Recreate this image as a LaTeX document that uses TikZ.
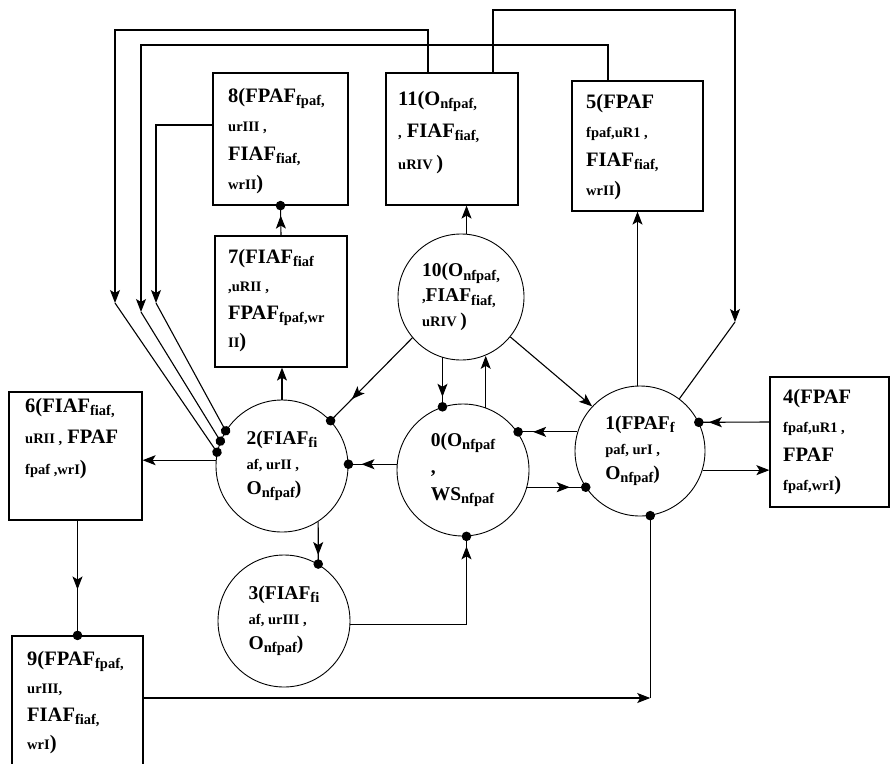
\documentclass[tikz,border=0pt]{standalone}
\usepackage{fontspec}
\setmainfont{Liberation Serif}
\usetikzlibrary{arrows.meta,decorations.markings,calc}
\newcommand{\Sb}[1]{\raisebox{-3.5pt}{\fontsize{14.5}{20}\selectfont #1}}
\newcommand{\Sm}[1]{{\fontsize{14.5}{20}\selectfont #1}}
\tikzset{
 ln/.style={line width=1.1pt},
 ar/.style={ln, -{Stealth[length=13pt,width=10pt,inset=3pt]}},
 dt/.style={ln, -{Circle[length=9.5pt]}, shorten >=-4.75pt},
 adt/.style={dt, postaction={decorate}, decoration={markings, mark=at position #1 with {\arrow{Stealth[length=13pt,width=10pt,inset=3pt]}}}},
 adt/.default=-12pt,
 box/.style={draw, line width=1.2pt, inner sep=0pt},
 circ/.style={draw, circle, line width=0.9pt, minimum size=#1, inner sep=0pt, align=left, font=\fontsize{19.5}{25}\selectfont\bfseries},
 txt/.style={align=left, inner sep=0pt, anchor=north west, font=\fontsize{20.5}{#1}\selectfont\bfseries},
}
\begin{document}
\begin{tikzpicture}[x=1pt,y=-1pt]
\useasboundingbox (0,0) rectangle (891,763);
\clip (0,0) rectangle (891,763);
% boxes
\node[box, minimum width=135pt, minimum height=132pt] (b8) at (280.5,139) {};
\node[box, minimum width=132pt, minimum height=132pt] (b11) at (452,139) {};
\node[box, minimum width=131pt, minimum height=130pt] (b5) at (637.5,146) {};
\node[box, minimum width=132pt, minimum height=131pt] (b7) at (281,301.5) {};
\node[box, minimum width=133pt, minimum height=128pt] (b6) at (75.5,456) {};
\node[box, minimum width=119pt, minimum height=130pt] (b4) at (829.5,442) {};
\node[box, minimum width=131pt, minimum height=140pt] (b9) at (77.5,706) {};
% box texts
\node[txt=29] (t8) at (228,88) {8(FPAF\Sb{fpaf,}\\\Sm{urIII ,}\\FIAF\Sb{fiaf,}\\\Sm{wrII})};
\node[txt=32] (t11) at (398,91) {11(O\Sb{nfpaf,}\\\Sm{,} FIAF\Sb{fiaf,}\\\Sm{uRIV })};
\node[txt=29] (t5) at (586,94) {5(FPAF\\\Sm{fpaf,uR1 ,}\\FIAF\Sb{fiaf,}\\\Sm{wrII})};
\node[txt=28] (t7) at (228,249) {7(FIAF\Sb{fiaf}\\\Sm{,uRII ,}\\FPAF\Sb{fpaf,wr}\\\Sm{II})};
\node[txt=31] (t6) at (25,398) {6(FIAF\Sb{fiaf,}\\\Sm{uRII ,} FPAF\\\Sm{fpaf ,wrI})};
\node[txt=29] (t4) at (783,389) {4(FPAF\\\Sm{fpaf,uR1 ,}\\FPAF\\\Sm{fpaf,wrI})};
\node[txt=28] (t9) at (27,651) {9(FPAF\Sb{fpaf,}\\\Sm{urIII,}\\FIAF\Sb{fiaf,}\\\Sm{wrI})};
% circles
\node[circ=126pt] (c10) at (461,297) {10(O\Sb{nfpaf,}\\\Sm{,}FIAF\Sb{fiaf,}\\\Sm{uRIV })};
\node[circ=132pt] (c2) at (282,466) {2(FIAF\Sb{fi}\\\Sm{af, urII ,}\\O\Sb{nfpaf})};
\node[circ=132pt, font=\fontsize{19.5}{27}\selectfont\bfseries] (c0) at (463,470) {0(O\Sb{nfpaf}\\,\\WS\Sb{nfpaf}};
\node[circ=130pt] (c1) at (640,451) {1(FPAF\Sb{f}\\\Sm{paf, urI ,}\\O\Sb{nfpaf})};
\node[circ=132pt] (c3) at (284,621) {3(FIAF\Sb{fi}\\\Sm{af, urIII ,}\\O\Sb{nfpaf})};
% route coordinates
\coordinate (p1) at (115,30); \coordinate (q1) at (115,303);
\coordinate (p2) at (141,45); \coordinate (q2) at (141,312);
\coordinate (q3) at (156,303);
\coordinate (p4) at (735,10); \coordinate (q4) at (735,322);
% connectors
\draw[ar] ([xshift=-24pt]b11.north) |- (p1) -- (q1);
\draw[dt] (q1) -- (c2.168);
\draw[ar] ([xshift=-29.5pt]b5.north) |- (p2) -- (q2);
\draw[dt] (q2) -- (c2.158);
\draw[ar] ([yshift=14pt]b8.west) -| (q3);
\draw[dt] (q3) -- (c2.148);
\draw[ar] ([xshift=41pt]b11.north) |- (p4) -- (q4);
\draw[ln] (q4) -- (c1.53);
\draw[ar] (c2.north) -- (c2.north |- b7.south);
\draw[adt=-10pt] (b7.north) -- (b8.south);
\draw[ar] (c10.85) -- (c10.85 |- b11.south);
\draw[ar] (b5.south |- c1.north) -- (b5.south);
\draw[adt=-30pt] (c10.220) -- (c2.43);
\draw[adt=-13pt] (c0.175) -- (c0.175 -| c2.east);
\draw[ar] (c2.175) -- (c2.175 -| b6.east);
\draw[adt=-10pt] (c0.108 |- c10.252) -- (c0.108);
\draw[ar] (c0.70) -- (c0.70 |- c10.292);
\draw[ar] (c10.321) -- (c1.137);
\draw[adt=-15pt] (c1.163) -- (c1.163 -| c0.34);
\draw[adt=-16pt] (c0.345) -- (c0.345 -| c1.214);
\draw[adt=-10pt] ([yshift=20pt]b4.west) -- (c1.26);
\draw[ar] (c1.343) -- (c1.343 -| b4.west);
\draw[adt=-9pt] (c2.303) -- (c3.59);
\draw[adt=-10pt] (c3.357) -| (c0.273);
\draw[adt=0.6] (b6.south -| b9.north) -- (b9.north);
\draw[ar] ([yshift=8pt]b9.east) -- ([yshift=8pt]b9.east -| c1.279) coordinate (k9);
\draw[dt] (k9) -- (c1.279);
\end{tikzpicture}
\end{document}
